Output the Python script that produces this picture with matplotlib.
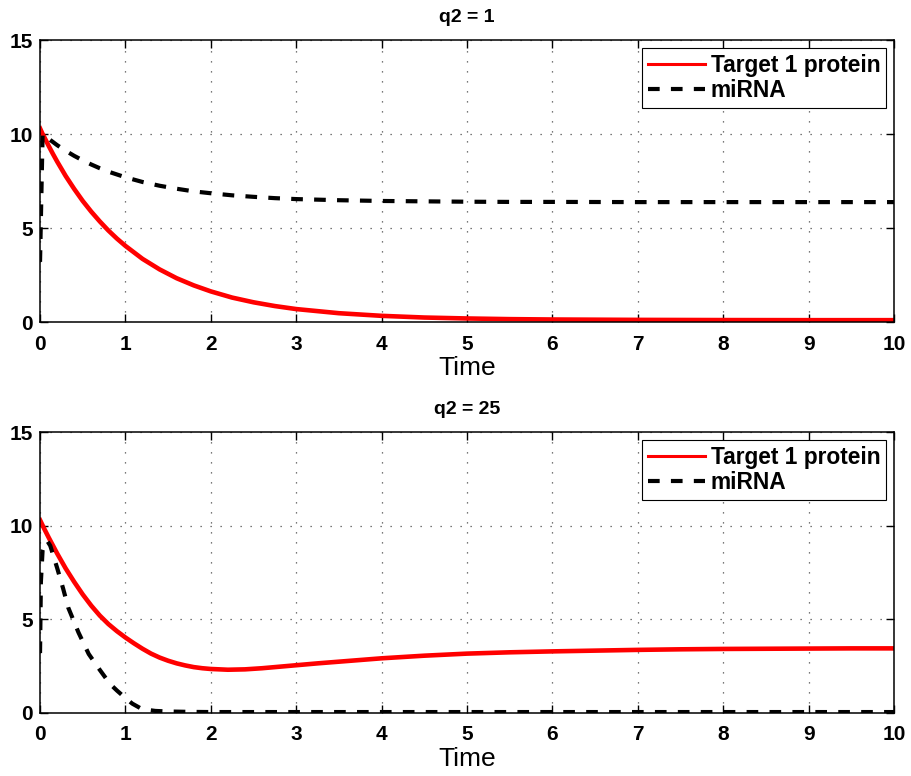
import numpy as np
import matplotlib
matplotlib.use('Agg')
import matplotlib.pyplot as plt

plt.rcParams['font.family'] = ['Liberation Sans', 'DejaVu Sans']

# q2 = 1
t1 = [0, 0.03, 0.05, 0.1, 0.15, 0.2, 0.3, 0.4, 0.5, 0.6, 0.7, 0.8, 0.9, 1.0, 1.2, 1.4,
      1.6, 1.8, 2.0, 2.25, 2.5, 2.75, 3.0, 3.5, 4.0, 4.5, 5.0, 5.5, 6.0, 7.0, 8.0, 9.0, 10.0]
prot1 = [10.3, 10.0, 9.83, 9.38, 8.95, 8.54, 7.77, 7.08, 6.44, 5.87, 5.35, 4.87, 4.44, 4.05, 3.36, 2.80,
         2.33, 1.95, 1.63, 1.30, 1.05, 0.85, 0.69, 0.47, 0.33, 0.24, 0.19, 0.155, 0.135, 0.115, 0.105, 0.1, 0.1]
mir1 = [3.2, 10.0, 9.95, 9.75, 9.58, 9.41, 9.11, 8.84, 8.60, 8.38, 8.18, 8.00, 7.85, 7.70, 7.45, 7.25,
        7.09, 6.95, 6.85, 6.74, 6.66, 6.59, 6.54, 6.48, 6.44, 6.42, 6.40, 6.39, 6.39, 6.38, 6.38, 6.38, 6.38]

# q2 = 25
t2 = [0, 0.05, 0.1, 0.15, 0.2, 0.3, 0.4, 0.5, 0.6, 0.7, 0.8, 0.9, 1.0, 1.1, 1.2, 1.3, 1.4,
      1.5, 1.6, 1.7, 1.8, 1.9, 2.0, 2.2, 2.4, 2.6, 2.8, 3.0, 3.25, 3.5, 3.75, 4.0, 4.5,
      5.0, 5.5, 6.0, 6.5, 7.0, 7.5, 8.0, 8.5, 9.0, 9.5, 10.0]
prot2 = [10.3, 9.83, 9.38, 8.95, 8.52, 7.72, 7.0, 6.33, 5.73, 5.2, 4.75, 4.37, 4.03, 3.72, 3.43, 3.17, 2.96,
         2.79, 2.65, 2.54, 2.45, 2.39, 2.35, 2.31, 2.33, 2.39, 2.47, 2.55, 2.65, 2.74, 2.83, 2.92, 3.06,
         3.17, 3.24, 3.29, 3.33, 3.37, 3.40, 3.42, 3.43, 3.44, 3.45, 3.45]

tm2 = [0, 0.01, 0.03, 0.06, 0.09, 0.12, 0.2, 0.27, 0.33, 0.45, 0.57, 0.7, 0.82, 0.9, 1.0,
       1.08, 1.17, 1.25, 1.35, 1.5, 1.75, 2.0, 3.0, 5.0, 10.0]
mir2 = [3.2, 7.0, 8.7, 9.15, 9.15, 8.93, 7.75, 6.65, 5.63, 4.3, 3.15, 2.3, 1.55, 1.2, 0.8,
        0.5, 0.27, 0.17, 0.11, 0.08, 0.06, 0.05, 0.05, 0.05, 0.05]

panels = [('q2 = 1', t1, prot1, t1, mir1), ('q2 = 25', t2, prot2, tm2, mir2)]

fig = plt.figure(figsize=(9.12, 7.76), dpi=100)
rects = [[0.0439, 0.585, 0.9364, 0.3634], [0.0439, 0.0812, 0.9364, 0.362]]

for rect, (title, tp, prot, tm, mir) in zip(rects, panels):
    ax = fig.add_axes(rect)
    ax.plot(tp, prot, color='red', lw=3.3, label='Target 1 protein')
    ax.plot(tm, mir, color='black', lw=3, ls=(0, (2.8, 2.7)), label='miRNA')
    ax.set_xlim(0, 10)
    ax.set_ylim(0, 15)
    ax.set_xticks(range(0, 11))
    ax.set_yticks([0, 5, 10, 15])
    ax.grid(True, ls=(0, (1, 7)), color='0.3', lw=0.9)
    ax.tick_params(direction='in', top=True, right=True, length=6, width=1,
                   labelsize=15)
    ax.tick_params(axis='x', pad=9)
    ax.tick_params(axis='y', pad=5)
    for lab in ax.get_xticklabels() + ax.get_yticklabels():
        lab.set_fontweight('bold')
    for s in ax.spines.values():
        s.set_linewidth(1.1)
    ax.set_xlabel('Time', fontsize=19, labelpad=2)
    ax.set_title(title, fontsize=14, fontweight='bold', pad=13)
    leg = ax.legend(loc='upper right', fancybox=False, edgecolor='black',
                    framealpha=1, prop={'weight': 'bold', 'size': 16.4},
                    handlelength=2.5, handletextpad=0.26, borderpad=0.25,
                    labelspacing=0.1, borderaxespad=0.35)
    leg.get_frame().set_linewidth(0.8)
    leg.get_lines()[0].set_linewidth(2.2)

fig.savefig('out.png', dpi=100)
